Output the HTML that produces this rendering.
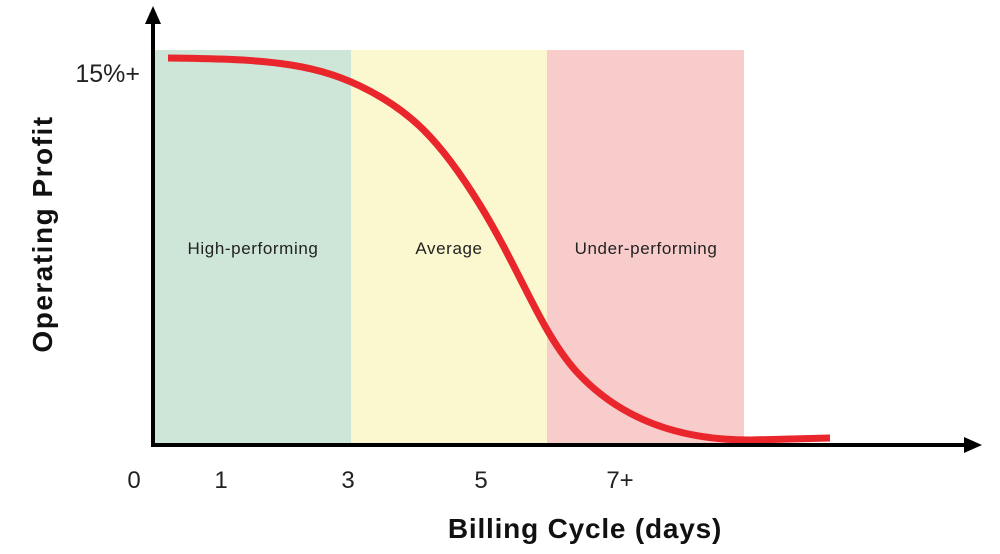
<!DOCTYPE html>
<html><head><style>body{margin:0;background:#fff}</style></head><body>
<svg width="1000" height="549" xmlns="http://www.w3.org/2000/svg" font-family="Liberation Sans, sans-serif">
<rect x="155" y="50" width="196" height="394" fill="#cde6d8"/>
<rect x="351" y="50" width="196" height="394" fill="#fbf7cf"/>
<rect x="547" y="50" width="197" height="394" fill="#f9cccc"/>
<text x="253" y="254" font-size="17" letter-spacing="0.6" text-anchor="middle" fill="#222">High-performing</text>
<text x="449" y="254" font-size="17" letter-spacing="0.6" text-anchor="middle" fill="#222">Average</text>
<text x="646" y="254" font-size="17" letter-spacing="0.6" text-anchor="middle" fill="#222">Under-performing</text>
<path d="M168,58 C260,59 310,62 360,86 C410,110 440,140 480,205 C520,270 540,330 575,370 C620,420 680,440 750,440 L830,438" fill="none" stroke="#e8262b" stroke-width="7"/>
<line x1="153" y1="20" x2="153" y2="447" stroke="#000" stroke-width="4"/>
<polygon points="153,6 145,24 161,24" fill="#000"/>
<line x1="151" y1="445" x2="968" y2="445" stroke="#000" stroke-width="4"/>
<polygon points="982,445 964,437 964,453" fill="#000"/>
<text x="140" y="82" font-size="25" text-anchor="end" fill="#222">15%+</text>
<g font-size="24" fill="#222" text-anchor="middle">
<text x="134" y="488">0</text><text x="221" y="488">1</text><text x="348" y="488">3</text><text x="481" y="488">5</text><text x="620" y="488">7+</text>
</g>
<text x="585" y="538" font-size="28" font-weight="bold" letter-spacing="0.8" text-anchor="middle" fill="#111">Billing Cycle (days)</text>
<text transform="translate(52,234) rotate(-90)" font-size="28" font-weight="bold" letter-spacing="1.5" text-anchor="middle" fill="#111">Operating Profit</text>
</svg>
</body></html>
